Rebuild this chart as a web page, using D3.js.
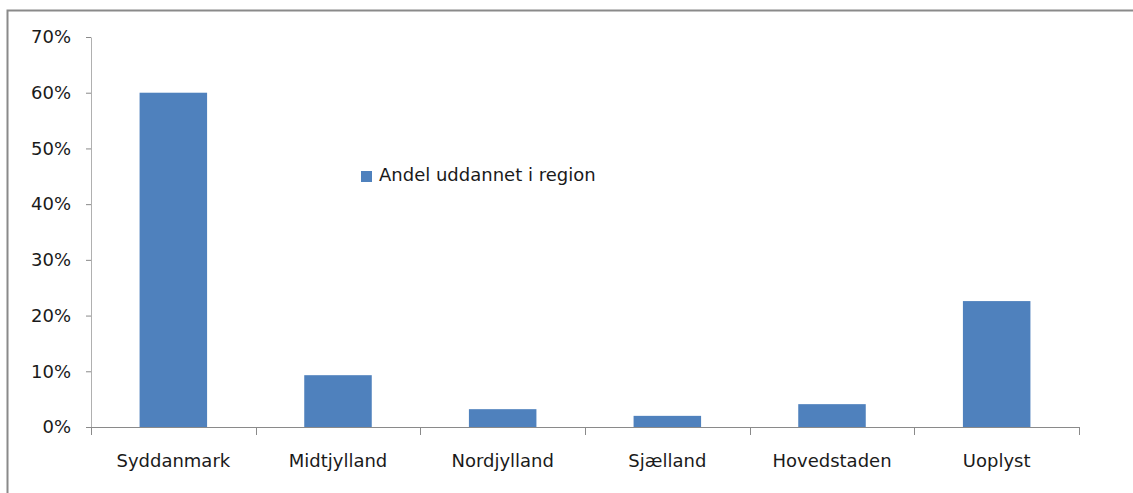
<!DOCTYPE html>
<html>
<head>
<meta charset="utf-8">
<script src="https://cdn.jsdelivr.net/npm/d3@7"></script>
<style>
    body { margin: 0; background: #fff; }
    svg text { font-family: "DejaVu Sans", sans-serif; fill: #1a1a1a; }
</style>
</head>
<body>
<div id="chart"></div>
<script>
// Chart data
const categories = ['Syddanmark', 'Midtjylland', 'Nordjylland', 'Sjælland', 'Hovedstaden', 'Uoplyst'];
const values = [0.60, 0.093, 0.032, 0.020, 0.041, 0.226];
const yTicks = [0, 0.1, 0.2, 0.3, 0.4, 0.5, 0.6, 0.7];
const seriesName = 'Andel uddannet i region';

const width = 1133;
const height = 493;
const barColor = '#4f81bd';

const svg = d3.select('#chart')
    .append('svg')
    .attr('width', width)
    .attr('height', height);

// Outer frame (left and top only visible)
svg.append('path')
    .attr('d', `M7.5,${height} L7.5,10.5 L${width},10.5`)
    .attr('fill', 'none')
    .attr('stroke', '#8a8a8a')
    .attr('stroke-width', 2);

// Scales
const x = d3.scaleBand()
    .domain(categories)
    .range([91, 1079])
    .paddingInner(0.59)
    .paddingOuter(0.295);

const y = d3.scaleLinear()
    .domain([0, 0.7])
    .range([427, 37]);

// Y axis
const yAxis = svg.append('g')
    .attr('transform', 'translate(91,0)')
    .call(d3.axisLeft(y)
        .tickValues(yTicks)
        .tickFormat(d3.format('.0%'))
        .tickSize(5)
        .tickSizeOuter(0)
        .tickPadding(15));
yAxis.select('.domain').attr('stroke', '#b0b0b0');
yAxis.selectAll('.tick line').attr('stroke', '#8a8a8a');
yAxis.selectAll('text').attr('font-size', 18).attr('font-family', null).attr('fill', '#1a1a1a');

// Bars
svg.append('g')
    .selectAll('rect')
    .data(categories)
    .join('rect')
    .attr('x', d => x(d))
    .attr('y', (d, i) => y(values[i]))
    .attr('width', x.bandwidth())
    .attr('height', (d, i) => y(0) - y(values[i]))
    .attr('fill', barColor);

// X axis (labels)
const xAxis = svg.append('g')
    .attr('transform', `translate(0,${y(0)})`)
    .call(d3.axisBottom(x).tickSize(0).tickPadding(27));
xAxis.select('.domain').remove();
xAxis.selectAll('text').attr('font-size', 18).attr('font-family', null).attr('fill', '#1a1a1a');

// X axis line and category boundary ticks
const step = x.step();
const bounds = d3.range(categories.length + 1).map(i => x.range()[0] + i * step);
svg.append('line')
    .attr('x1', x.range()[0])
    .attr('x2', x.range()[1])
    .attr('y1', y(0) + 0.5)
    .attr('y2', y(0) + 0.5)
    .attr('stroke', '#8a8a8a');
svg.append('g')
    .selectAll('line')
    .data(bounds)
    .join('line')
    .attr('x1', d => Math.round(d) + 0.5)
    .attr('x2', d => Math.round(d) + 0.5)
    .attr('y1', y(0))
    .attr('y2', y(0) + 8)
    .attr('stroke', '#8a8a8a');

// Legend
const legend = svg.append('g')
    .attr('transform', 'translate(361,171)');
legend.append('rect')
    .attr('width', 11)
    .attr('height', 11)
    .attr('fill', barColor);
legend.append('text')
    .attr('x', 18)
    .attr('y', 10)
    .attr('font-size', 18)
    .text(seriesName);
</script>
</body>
</html>
